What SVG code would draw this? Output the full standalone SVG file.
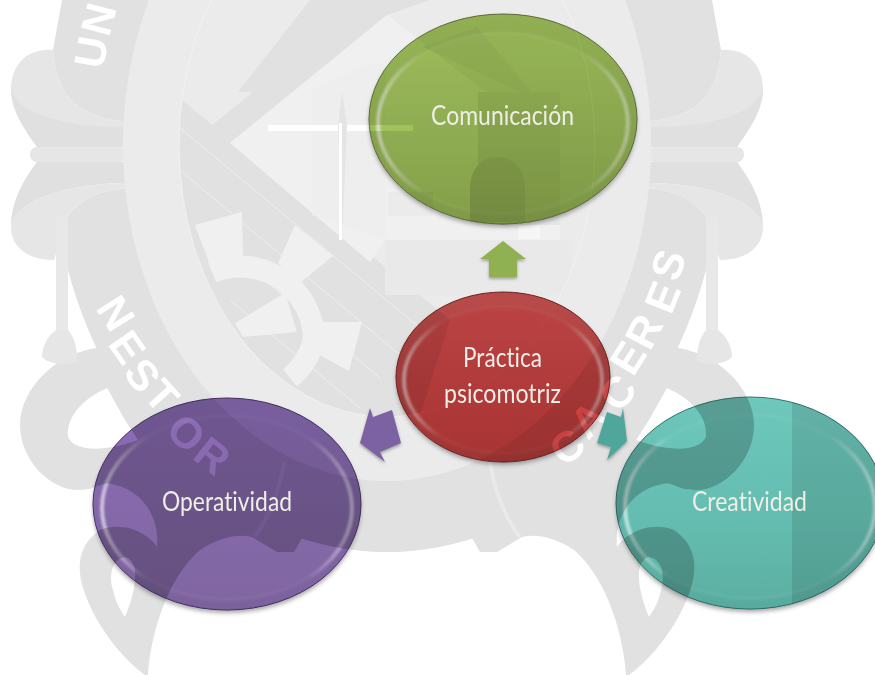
<svg xmlns="http://www.w3.org/2000/svg" xmlns:xlink="http://www.w3.org/1999/xlink" width="875" height="675" viewBox="0 0 875 675">
<style>
.d{fill:#e1e1e1}.m{fill:#e6e6e6}.l{fill:#f0f0f0}.w{fill:#fff}
.wm{font:bold 43px "Liberation Sans",Arial,sans-serif;fill:#fff}
.lbl{font:26px Lato,"Open Sans",sans-serif;fill:#efeee6;text-anchor:start;font-variant-ligatures:none}
.mul{mix-blend-mode:multiply}
.rim{fill:none;stroke:url(#rim);stroke-width:4;filter:url(#b1)}
</style>
<defs>
<filter id="b1" x="-10%" y="-10%" width="120%" height="120%"><feGaussianBlur stdDeviation="0.9"/></filter>
<filter id="sh" x="-10%" y="-10%" width="120%" height="125%"><feGaussianBlur stdDeviation="2.2"/></filter>
<filter id="ash" x="-30%" y="-30%" width="160%" height="160%"><feDropShadow dx="0" dy="2" stdDeviation="1.5" flood-color="#555" flood-opacity=".5"/></filter>
<linearGradient id="rim" x1="0" x2="1" y1="0" y2="0"><stop offset="0" stop-color="#fff" stop-opacity=".6"/><stop offset=".18" stop-color="#fff" stop-opacity=".04"/><stop offset=".82" stop-color="#fff" stop-opacity=".04"/><stop offset="1" stop-color="#fff" stop-opacity=".5"/></linearGradient>
<linearGradient id="gG" x1="0" x2="0" y1="0" y2="1"><stop offset="0" stop-color="#afd264"/><stop offset=".6" stop-color="#9fc05a"/><stop offset="1" stop-color="#94b352"/></linearGradient>
<linearGradient id="gR" x1="0" x2="0" y1="0" y2="1"><stop offset="0" stop-color="#d94c4c"/><stop offset="1" stop-color="#c43d3c"/></linearGradient>
<linearGradient id="gP" x1="0" x2="0" y1="0" y2="1"><stop offset="0" stop-color="#8b6bb5"/><stop offset=".6" stop-color="#8468a8"/><stop offset="1" stop-color="#8066a2"/></linearGradient>
<linearGradient id="gT" x1="0" x2="0" y1="0" y2="1"><stop offset="0" stop-color="#6cc6ba"/><stop offset=".6" stop-color="#63bcaf"/><stop offset="1" stop-color="#5cb0a3"/></linearGradient>
<linearGradient id="oG" x1="0" x2="0" y1="0" y2="1"><stop offset="0" stop-color="#a9cc60"/><stop offset="1" stop-color="#8fae50"/></linearGradient>
<linearGradient id="oR" x1="0" x2="0" y1="0" y2="1"><stop offset="0" stop-color="#d85656"/><stop offset="1" stop-color="#bb3c3b"/></linearGradient>
<linearGradient id="oP" x1="0" x2="0" y1="0" y2="1"><stop offset="0" stop-color="#8d6eb8"/><stop offset="1" stop-color="#7b619c"/></linearGradient>
<linearGradient id="oT" x1="0" x2="0" y1="0" y2="1"><stop offset="0" stop-color="#6fc8bc"/><stop offset="1" stop-color="#58aa9e"/></linearGradient>
<clipPath id="inner"><ellipse cx="387" cy="145" rx="208" ry="272"/></clipPath>
<clipPath id="nodesClip"><ellipse cx="503" cy="119" rx="134" ry="105"/><ellipse cx="503" cy="377" rx="107" ry="85"/><ellipse cx="227" cy="504" rx="134" ry="106"/><ellipse cx="750" cy="503" rx="134" ry="106"/></clipPath>
<clipPath id="tealClip"><ellipse cx="750" cy="503" rx="134" ry="106"/></clipPath>
<g id="half">
<path class="d" d="M62,0 L53,50 C56,100 85,118 123,121 L127,188 C100,190 78,200 68,217 L68,270 A335,407 0 0 0 387,552 L387,0Z"/>
<path class="m" d="M53,50 C30,48 11,62 11,90 C11,110 25,130 37,147 L125,147 L123,121 C85,118 56,100 53,50Z"/>
<path fill="#e0e0e0" d="M11,88 C15,112 60,127 123,127 L125,147 L37,147 C25,130 11,110 11,88Z"/>
<rect class="m" x="30" y="147" width="97" height="15" rx="7"/>
<path fill="#e0e0e0" d="M37,162 C25,178 11,200 11,227 C15,200 70,183 127,183 L125,162Z"/>
<path class="m" d="M11,227 C11,245 25,260 54,260 L68,217 C78,200 100,190 127,188 L127,183 C70,183 15,200 11,227Z"/>
<rect fill="#e8e8e8" x="56" y="217" width="12" height="115"/>
<path class="d" d="M77,353 C45,365 20,395 20,425 C20,460 50,490 78,490 C100,490 100,480 115,485 C140,490 160,515 157,547 C150,535 125,520 100,530 C85,540 78,555 80,573 C82,600 110,650 145,675 L148,675 C150,640 165,580 200,550 C215,540 235,533 252,537 L277,552 L294,552 L302,538 A335,407 0 0 0 387,552 L387,300 L90,349Z"/>
<path class="m" d="M56,330 C45,338 42,350 42,357 C50,365 65,365 77,362 C77,348 75,338 68,330Z"/>
<path class="w" d="M107,388 C85,398 66,415 68,437 C75,452 105,452 138,440 L125,420Z"/>
<path class="w" d="M125,557 C113,558 108,575 113,590 C116,605 122,612 125,617 C132,600 136,585 135,570 C133,562 130,558 125,557Z"/>
</g>
<g id="wmark">
<rect class="w" x="0" y="0" width="875" height="675"/>
<use href="#half"/>
<use href="#half" transform="matrix(-1 0 0 1 774 0)"/>
<path fill="none" stroke="#e9e9e9" stroke-width="4" d="M284,462 C280,490 268,520 254,537"/>
<path fill="none" stroke="#e9e9e9" stroke-width="4" d="M490,462 C494,490 506,520 520,537"/>
<ellipse cx="387" cy="145" rx="264" ry="336" fill="#ebebeb"/>
<g clip-path="url(#inner)">
<polygon class="d" points="182,100 450,320 400,480 150,480 150,100"/>
<g fill="none" stroke="#eeeeee" stroke-width="1">
<path d="M180,128 L420,328M180,170 L400,355M200,225 L380,378M230,300 L360,408"/>
</g>
<polygon class="d" points="210,127 253,92 238,92 310,0 430,0 387,15 230,143"/>
<polygon class="l" points="230,143 387,15 560,150 560,240 385,240 370,262"/>
<polygon fill="#e9e9e9" points="385,240 572,240 572,295 385,295"/>
<polygon fill="#eeeeee" points="312,90 370,63 385,63 385,240 312,215"/>
<path fill="#e7e7e7" d="M423,47 L477,27 L532,92 L560,92 L560,225 478,225 478,92 L520,92Z"/>
<path fill="#dfdfdf" d="M470,222 L470,190 C470,170 480,157 497,157 C515,157 525,170 525,190 L525,222Z"/>
<rect fill="#ebebeb" x="388" y="192" width="45" height="24"/>
<rect fill="#f6f6f6" x="518" y="225" width="22" height="14"/>
<rect class="w" x="268" y="125" width="145" height="6"/>
<polygon fill="#e4e4e4" points="342,92 347,125 342,240 338,125"/>
<rect class="w" x="339" y="123" width="3" height="117"/>
<g class="l">
<polygon points="195,225 242,212 243,255 212,270"/>
<polygon points="295,225 333,256 300,283 278,263"/>
<polygon points="313,322 362,322 349,371 310,350"/>
<polygon points="235,323 285,293 297,332 243,337"/>
<path fill="none" stroke="#f0f0f0" stroke-width="22" d="M212,272 A74,74 0 0 1 314,340 A74,74 0 0 1 290,378"/>
</g>
</g>
<ellipse cx="387" cy="145" rx="208" ry="272" fill="none" stroke="#f2f2f2" stroke-width="1"/>
<text class="wm" x="103 109" y="70 38" rotate="-80 -75">UN</text>
<text class="wm" x="95 107 122 142 164 191" y="308 344 373 396 433 458" rotate="58 55 52 48 42 38">NESTOR</text>
<text class="wm" x="565 588 620 633 650 671 678" y="468 441 414 378 352 316 283" rotate="-40 -45 -52 -58 -63 -68 -72">CACERES</text>
</g>
</defs>
<use href="#wmark"/>
<g id="connectors" filter="url(#ash)">
<polygon fill="#8fb151" points="503,241 526,259 517,259 517,277 489,277 489,259 480,259"/>
<polygon fill="#7b62a3" points="360,443 370,408 373,417 392,410 401,443 380,452 385,462"/>
<polygon fill="#4fa79b" points="627,441 623,408 621,417 607,412 597,443 611,447 607,460"/>
</g>
<g id="shadows" fill="#555" opacity=".5" filter="url(#sh)">
<ellipse cx="503" cy="122" rx="134" ry="105"/>
<ellipse cx="503" cy="380" rx="107" ry="85"/>
<ellipse cx="227" cy="507" rx="134" ry="106"/>
<ellipse cx="750" cy="506" rx="134" ry="106"/>
</g>
<use href="#wmark" clip-path="url(#nodesClip)"/>
<g id="node-comunicacion">
<g class="mul"><ellipse cx="503" cy="119" rx="134" ry="105" fill="url(#oG)" stroke="#66793a" stroke-width="1"/>
<ellipse cx="503" cy="123" rx="125" ry="91" fill="url(#gG)"/><ellipse class="rim" cx="503" cy="123" rx="125" ry="91"/></g>
</g>
<g id="node-practica">
<g class="mul"><ellipse cx="503" cy="377" rx="107" ry="85" fill="url(#oR)" stroke="#7d2524" stroke-width="1"/>
<ellipse cx="503" cy="380" rx="99" ry="73" fill="url(#gR)"/><ellipse class="rim" cx="503" cy="380" rx="99" ry="73"/></g>
</g>
<g id="node-operatividad">
<g class="mul"><ellipse cx="227" cy="504" rx="134" ry="106" fill="url(#oP)" stroke="#4b3570" stroke-width="1"/>
<ellipse cx="227" cy="508" rx="125" ry="92" fill="url(#gP)"/><ellipse class="rim" cx="227" cy="508" rx="125" ry="92"/></g>
</g>
<g id="node-creatividad">
<g class="mul"><ellipse cx="750" cy="503" rx="134" ry="106" fill="url(#oT)" stroke="#2f7a70" stroke-width="1"/>
<ellipse cx="750" cy="507" rx="125" ry="92" fill="url(#gT)"/><ellipse class="rim" cx="750" cy="507" rx="125" ry="92"/></g>
</g>
<use href="#wmark" class="mul" opacity=".85" clip-path="url(#nodesClip)"/>
<rect class="mul" x="792" y="390" width="83" height="230" fill="#e4e4e4" clip-path="url(#tealClip)"/>
<text class="lbl" x="431" y="125" textLength="143" lengthAdjust="spacingAndGlyphs">Comunicación</text>
<text class="lbl" x="463" y="367" textLength="79" lengthAdjust="spacingAndGlyphs">Práctica</text>
<text class="lbl" x="444" y="403" textLength="117" lengthAdjust="spacingAndGlyphs">psicomotriz</text>
<text class="lbl" x="162" y="511" textLength="130" lengthAdjust="spacingAndGlyphs">Operatividad</text>
<text class="lbl" x="692" y="511" textLength="115" lengthAdjust="spacingAndGlyphs">Creatividad</text>
</svg>
